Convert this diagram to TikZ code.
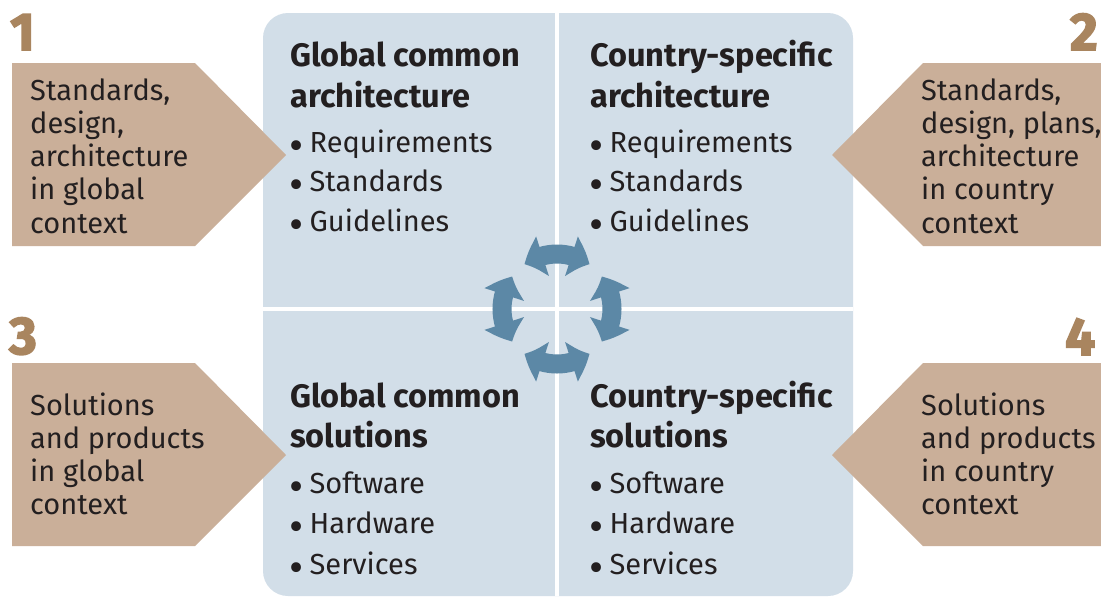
\documentclass[tikz,border=0pt]{standalone}
\usepackage{fontspec}
\setmainfont{Fira Sans}
\newfontfamily\numfont[FakeBold=3]{Fira Sans}
\usetikzlibrary{arrows.meta,bending}
\definecolor{boxfill}{HTML}{D2DEE8}
\definecolor{tan}{HTML}{CAAF99}
\definecolor{numc}{HTML}{A9855F}
\definecolor{ringc}{HTML}{5C88A6}
\definecolor{txt}{HTML}{231F20}
\newcommand\bul{\raisebox{-0.28em}{\scalebox{1.5}{\textbullet}}\hspace{0.22em}}
\tikzset{
  pentagon/.style={fill=tan, draw=none},
  body/.style={anchor=base west, inner sep=0pt, text=txt, font=\fontsize{29}{33}\selectfont},
  head/.style={anchor=base west, inner sep=0pt, text=txt, font=\fontsize{32.5}{33}\selectfont\bfseries},
  num/.style={anchor=base west, inner sep=0pt, text=numc, font=\fontsize{53}{53}\numfont\bfseries},
  ring/.style={draw=ringc, line width=19pt,
    arrows={Triangle[width=40pt,length=20pt,bend]-Triangle[width=40pt,length=20pt,bend]}},
}
\begin{document}
\begin{tikzpicture}[x=1pt,y=-1pt]
\useasboundingbox (0,0) rectangle (1101,598);
\fill[white] (0,0) rectangle (1101,598);
% big box
\fill[boxfill, rounded corners=25pt] (263,13) rectangle (853,596);
\draw[white, line width=4pt] (557,13) -- (557,596);
\draw[white, line width=4pt] (263,309) -- (853,309);
% pentagons
\fill[pentagon] (12,63) -- (195,63) -- (286,155) -- (195,246) -- (12,246) -- cycle;
\fill[pentagon] (1101,63) -- (923,63) -- (832,155) -- (923,246) -- (1101,246) -- cycle;
\fill[pentagon] (12,363) -- (195,363) -- (286,455) -- (195,546) -- (12,546) -- cycle;
\fill[pentagon] (1101,363) -- (923,363) -- (832,455) -- (923,546) -- (1101,546) -- cycle;
% numbers
\node[num] (n1) at (10,50) {1};
\node[num] (n2) at (1070,50) {2};
\node[num] (n3) at (9,354) {3};
\node[num] (n4) at (1065,355) {4};
% arrow texts
\foreach \t [count=\i from 0] in {{Standards,},{design,},{architecture},{in global},{context}}
  \node[body] (a1l\i) at (30,100+33.3*\i) {\t};
\foreach \t [count=\i from 0] in {{Standards,},{design, plans,},{architecture},{in country},{context}}
  \node[body] (a2l\i) at (921,100+33.3*\i) {\t};
\foreach \t [count=\i from 0] in {{Solutions},{and products},{in global},{context}}
  \node[body] (a3l\i) at (30,415+33.3*\i) {\t};
\foreach \t [count=\i from 0] in {{Solutions},{and products},{in country},{context}}
  \node[body] (a4l\i) at (921,415+33.3*\i) {\t};
% headings
\node[head] (h1a) at (290,66) {Global common};
\node[head] (h1b) at (290,107) {architecture};
\node[head] (h2a) at (590,66) {Country-specific};
\node[head] (h2b) at (590,107) {architecture};
\node[head] (h3a) at (290,407) {Global common};
\node[head] (h3b) at (290,447) {solutions};
\node[head] (h4a) at (590,407) {Country-specific};
\node[head] (h4b) at (590,447) {solutions};
% bullets
\foreach \t [count=\i from 0] in {Requirements,Standards,Guidelines}{
  \node[body] (b1l\i) at (289,152+39.5*\i) {\bul\t};
  \node[body] (b2l\i) at (589,152+39.5*\i) {\bul\t};
}
\foreach \t [count=\i from 0] in {Software,Hardware,Services}{
  \node[body] (b3l\i) at (289,493+40.5*\i) {\bul\t};
  \node[body] (b4l\i) at (589,493+40.5*\i) {\bul\t};
}
% ring of arrows
\coordinate (c) at (557,309);
\draw[ring] ([shift={(54:55)}]c) arc[start angle=54, end angle=126, radius=55];
\draw[ring] ([shift={(144:55)}]c) arc[start angle=144, end angle=216, radius=55];
\draw[ring] ([shift={(234:55)}]c) arc[start angle=234, end angle=306, radius=55];
\draw[ring] ([shift={(324:55)}]c) arc[start angle=324, end angle=396, radius=55];
\end{tikzpicture}
\end{document}
